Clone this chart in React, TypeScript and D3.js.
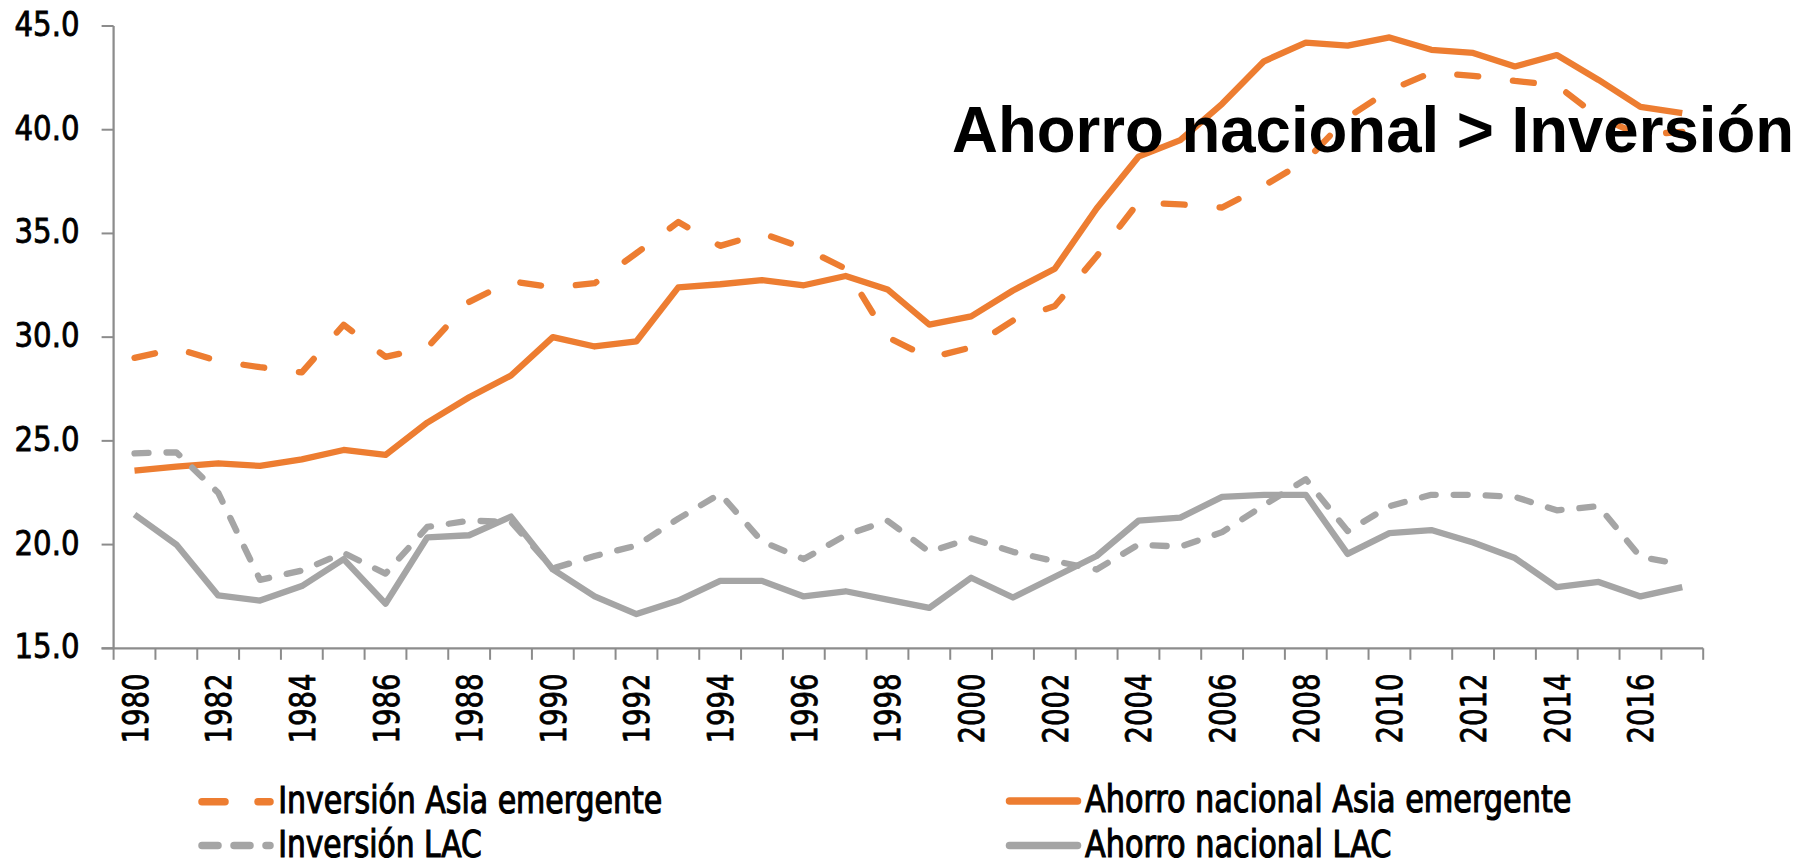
import React from "react";
import * as d3 from "d3";

const years: number[] = d3.range(1980, 2018);
const ahorroAsia: number[] = [23.56, 23.76, 23.92, 23.79, 24.11, 24.56, 24.32, 25.88, 27.1, 28.15, 30.0, 29.55, 29.8, 32.4, 32.55, 32.75, 32.5, 32.95, 32.3, 30.6, 31.0, 32.25, 33.3, 36.2, 38.7, 39.5, 41.25, 43.3, 44.2, 44.05, 44.45, 43.85, 43.7, 43.05, 43.6, 42.4, 41.1, 40.8];
const invAsia: number[] = [29.0, 29.45, 28.85, 28.55, 28.3, 30.6, 29.05, 29.5, 31.7, 32.7, 32.4, 32.6, 34.05, 35.55, 34.4, 35.0, 34.3, 33.3, 30.0, 29.0, 29.5, 30.8, 31.5, 33.9, 36.5, 36.4, 36.25, 37.3, 38.5, 40.6, 41.9, 42.75, 42.6, 42.35, 42.15, 40.6, 39.75, 39.9];
const invLAC: number[] = [24.4, 24.45, 22.5, 18.3, 18.75, 19.6, 18.6, 20.85, 21.15, 21.1, 18.85, 19.45, 19.95, 21.25, 22.45, 20.15, 19.3, 20.45, 21.15, 19.65, 20.3, 19.65, 19.2, 18.8, 20.0, 19.9, 20.6, 21.9, 23.15, 20.65, 21.85, 22.4, 22.4, 22.3, 21.65, 21.85, 19.4, 19.05];
const ahorroLAC: number[] = [21.45, 20.0, 17.55, 17.3, 18.0, 19.3, 17.15, 20.35, 20.45, 21.35, 18.8, 17.5, 16.65, 17.3, 18.25, 18.25, 17.5, 17.75, 17.35, 16.95, 18.4, 17.45, 18.45, 19.45, 21.15, 21.3, 22.3, 22.4, 22.4, 19.55, 20.55, 20.7, 20.1, 19.35, 17.95, 18.2, 17.5, 17.95];
const yTicks: number[] = [15, 20, 25, 30, 35, 40, 45];
const seriesNames: string[] = ["Inversión Asia emergente", "Ahorro nacional Asia emergente", "Inversión LAC", "Ahorro nacional LAC"];
const annotation = "Ahorro nacional > Inversión";

const ORANGE = "#ED7D31";
const GRAY = "#A5A5A5";
const AXIS = "#8C8C8C";
const FONT = "'Liberation Sans Narrow', 'Arial Narrow', 'DejaVu Sans Condensed', sans-serif";

const W = 1819, H = 860;
const left = 113.6, right = 1703.2, top = 26, bottom = 648.3;

export default function App() {
  const x = d3.scaleBand<number>().domain(years).range([left, right]).paddingInner(0).paddingOuter(0);
  const cx = (yr: number) => (x(yr) as number) + x.bandwidth() / 2;
  const y = d3.scaleLinear().domain([15, 45]).range([bottom, top]);

  const line = (vals: number[]) =>
    d3.line<number>().x((_, i) => cx(years[i])).y((v) => y(v))(vals) as string;

  const series = [
    { name: seriesNames[0], vals: invAsia, color: ORANGE, dash: "21 35", ldash: "23 33" },
    { name: seriesNames[1], vals: ahorroAsia, color: ORANGE, dash: "", ldash: "" },
    { name: seriesNames[2], vals: invLAC, color: GRAY, dash: "14 18", ldash: "16 16" },
    { name: seriesNames[3], vals: ahorroLAC, color: GRAY, dash: "", ldash: "" },
  ];

  const boundaries = d3.range(0, years.length + 1).map((i) => left + i * x.bandwidth());

  const legendPos = [
    { lx: 202, tx: 278.2, y: 801.7, tw: 384 },
    { lx: 1009.5, tx: 1085, y: 801, tw: 486.4 },
    { lx: 202, tx: 278.2, y: 845.5, tw: 203.6 },
    { lx: 1009.5, tx: 1085, y: 845.5, tw: 306.5 },
  ];

  return (
    <svg width={W} height={H} style={{ position: "absolute", left: 0, top: 0, background: "#fff" }}>
      {/* axes */}
      <line x1={left} x2={left} y1={top} y2={bottom} stroke={AXIS} strokeWidth={2.25} />
      <line x1={left - 12} x2={right} y1={bottom} y2={bottom} stroke={AXIS} strokeWidth={2.25} />
      {yTicks.map((t) => (
        <g key={t}>
          <line x1={left - 12} x2={left} y1={y(t)} y2={y(t)} stroke={AXIS} strokeWidth={2} />
          <text x={14.5} y={y(t) + 10} textLength={65} lengthAdjust="spacingAndGlyphs"
            fontFamily={FONT} fontSize={34.5} fill="#000" stroke="#000" strokeWidth={0.8}>{d3.format(".1f")(t)}</text>
        </g>
      ))}
      {boundaries.map((bx, i) => (
        <line key={i} x1={bx} x2={bx} y1={bottom} y2={bottom + 11.5} stroke={AXIS} strokeWidth={2} />
      ))}
      {years.filter((yr) => yr % 2 === 0).map((yr) => (
        <text key={yr} transform={`translate(${cx(yr) + 13},673.5) rotate(-90)`} textAnchor="end"
          textLength={70} lengthAdjust="spacingAndGlyphs" fontFamily={FONT} fontSize={36} fill="#000"
          stroke="#000" strokeWidth={0.8}>{yr}</text>
      ))}
      {/* series */}
      {series.map((s) => (
        <path key={s.name} d={line(s.vals)} fill="none" stroke={s.color} strokeWidth={6.3}
          strokeDasharray={s.dash || undefined} strokeLinecap={s.dash ? "round" : "butt"} strokeLinejoin="round" />
      ))}
      {/* annotation */}
      <text x={952} y={152} fontFamily="'Liberation Sans', Arial, sans-serif" fontWeight="bold" fontSize={64}
        textLength={842} lengthAdjust="spacingAndGlyphs" fill="#000">{annotation}</text>
      {/* legend */}
      {series.map((s, i) => {
        const p = legendPos[i];
        return (
          <g key={s.name}>
            <line x1={p.lx} x2={p.lx + 68} y1={p.y} y2={p.y} stroke={s.color} strokeWidth={7.5}
              strokeDasharray={s.ldash || undefined} strokeLinecap="round" />
            <text x={p.tx} y={p.y + 11} textLength={p.tw} lengthAdjust="spacingAndGlyphs"
              fontFamily={FONT} fontSize={37} fill="#000" stroke="#000" strokeWidth={1.1}>{s.name}</text>
          </g>
        );
      })}
    </svg>
  );
}
